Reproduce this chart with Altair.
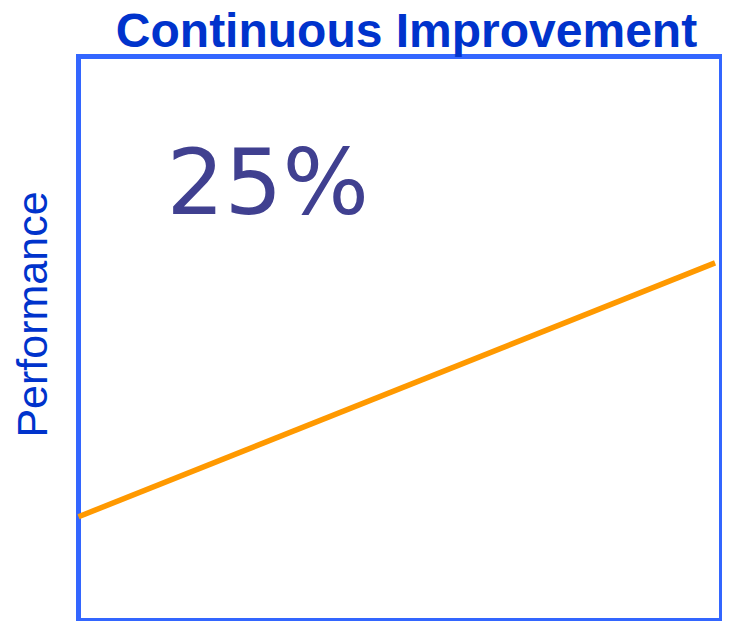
import altair as alt
import pandas as pd

# Line data (time vs performance)
time_pts = [0, 99]
performance = [18.4, 63.4]

# Annotation
label_text = ["25%"]
label_time = [13.7]
label_perf = [72.1]

line_df = pd.DataFrame({"time": time_pts, "performance": performance})
label_df = pd.DataFrame({"label": label_text, "time": label_time, "performance": label_perf})

x_scale = alt.Scale(domain=[0, 100], nice=False, zero=False)
y_scale = alt.Scale(domain=[0, 100], nice=False, zero=False)

y_axis = alt.Axis(
    labels=False, ticks=False, domain=False, grid=False,
    title="Performance", titleX=-32, titleY=257.5, titleAngle=270,
    titleAlign="center", titleBaseline="alphabetic",
    titleFont="Liberation Sans", titleFontSize=43, titleFontWeight="normal",
    titleColor="#0033CC",
)

line = alt.Chart(line_df).mark_line(color="#FF9900", strokeWidth=5.5, strokeCap="butt").encode(
    x=alt.X("time:Q", scale=x_scale, axis=None),
    y=alt.Y("performance:Q", scale=y_scale, axis=y_axis),
)

label = alt.Chart(label_df).mark_text(
    font="DejaVu Sans", fontSize=91, color="#404090", align="left", baseline="alphabetic"
).encode(
    x=alt.X("time:Q", scale=x_scale, axis=None),
    y=alt.Y("performance:Q", scale=y_scale, axis=y_axis),
    text="label:N",
)

chart = alt.layer(line, label).properties(
    width=643,
    height=564,
    padding={"left": 70.5, "top": 48.5, "right": 0.5, "bottom": 0.5},
    autosize=alt.AutoSizeParams(type="none"),
    title=alt.TitleParams(
        text="Continuous Improvement", font="Liberation Sans", fontSize=48,
        fontWeight="bold", color="#0033CC", anchor="middle", dx=6.5, offset=-38.5,
        baseline="alphabetic",
    ),
).configure_view(stroke="#3366FF", strokeWidth=5, fill="white")

chart.save("out.html", embed_options={"renderer": "svg", "actions": False})
